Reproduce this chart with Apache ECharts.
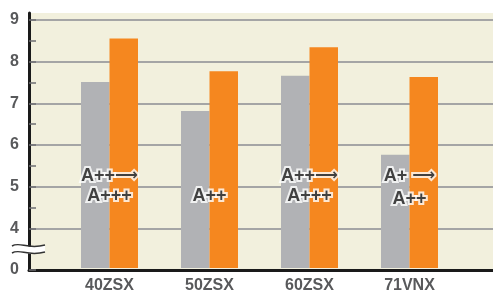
<!DOCTYPE html>
<html>
<head>
    <meta charset="utf-8">
    <title>Chart</title>
    <script src="https://cdn.jsdelivr.net/npm/echarts@6/dist/echarts.min.js"></script>
    <style>
        html, body { margin: 0; padding: 0; background: #fff; }
        #main { width: 493px; height: 294px; }
    </style>
</head>
<body>
    <div id="main"></div>
    <script type="text/javascript">
        // data
        var models = ['40ZSX', '50ZSX', '60ZSX', '71VNX'];
        var oldValues = [7.5, 6.8, 7.65, 5.74];
        var newValues = [8.55, 7.76, 8.34, 7.62];
        var yTicks = [3, 4, 5, 6, 7, 8, 9];
        var yTickLabels = ['0', '4', '5', '6', '7', '8', '9'];
        var classFrom = ['A++', '', 'A++', 'A+ '];
        var classTo = ['A+++', 'A++', 'A+++', 'A++'];
        var classFromY = [5.23, 5.23, 5.23, 5.23];
        var classToY = [4.75, 4.75, 4.75, 4.68];

        var annoPts = [];
        for (var i = 0; i < models.length; i++) {
            if (classFrom[i]) annoPts.push({ value: [i, classFromY[i]], name: '{t|' + classFrom[i] + '}{r|\u27F6}' });
            annoPts.push({ value: [i, classToY[i]], name: '{t|' + classTo[i] + '}' });
        }

        function annoLabel(halo) {
            var base = {
                color: halo ? '#ffffff' : '#111111',
                textBorderColor: '#ffffff',
                textBorderWidth: halo ? 4 : 0
            };
            return {
                show: true,
                position: 'inside',
                formatter: '{b}',
                rich: {
                    t: Object.assign({ fontFamily: 'Liberation Sans', fontWeight: 'bold', fontSize: 18 }, base),
                    r: Object.assign({ fontFamily: 'DejaVu Sans', fontWeight: 'bold', fontSize: 16 }, base)
                }
            };
        }

        // axis break mark
        function wave(x1, y1, x2, y2, c1x, c1y, c2x, c2y) {
            return { type: 'bezierCurve', z: 101,
                     shape: { x1: x1, y1: y1, x2: x2, y2: y2, cpx1: c1x, cpy1: c1y, cpx2: c2x, cpy2: c2y },
                     style: { fill: 'none', stroke: '#333', lineWidth: 1.5 } };
        }

        var myChart = echarts.init(document.getElementById('main'));

        var option = {
            animation: false,
            grid: [
                { left: 29, right: 0, top: 13, bottom: 24, show: true, backgroundColor: '#F2F0DD', borderWidth: 0 },
                { left: 29, right: 0, top: 20, bottom: 24 },
                { left: 59.5, right: 33.5, top: 20, bottom: 24 }
            ],
            xAxis: [
                { gridIndex: 0, type: 'value', min: 0, max: 1,
                  axisLine: { show: true, lineStyle: { color: '#1a1a1a', width: 3 } },
                  axisTick: { show: false }, axisLabel: { show: false }, splitLine: { show: false } },
                { gridIndex: 1, type: 'value', min: 0, max: 1, show: false },
                { gridIndex: 2, type: 'category', data: models,
                  axisLine: { show: false }, axisTick: { show: false },
                  axisLabel: { margin: 10, color: '#58595B', fontFamily: 'Liberation Sans', fontWeight: 'bold', fontSize: 16 } }
            ],
            yAxis: [
                { gridIndex: 0, type: 'value', min: 0, max: 1,
                  axisLine: { show: true, lineStyle: { color: '#1a1a1a', width: 3 } },
                  axisTick: { show: false }, axisLabel: { show: false }, splitLine: { show: false } },
                { gridIndex: 1, type: 'value', min: 3, max: 9, interval: 1,
                  axisLine: { show: false },
                  axisTick: { show: true, inside: true, length: 7, lineStyle: { color: '#6d6e71', width: 1.5 } },
                  minorTick: { show: true, splitNumber: 2, length: 7, lineStyle: { color: '#6d6e71', width: 1.5 } },
                  splitLine: { show: true, lineStyle: { color: '#A5A5A5', width: 2 } },
                  axisLabel: {
                      margin: 10, color: '#58595B', fontFamily: 'Liberation Sans', fontWeight: 'bold', fontSize: 16,
                      formatter: function (v) {
                          var k = yTicks.indexOf(v);
                          return k >= 0 ? yTickLabels[k] : '';
                      }
                  } },
                { gridIndex: 2, type: 'value', min: 3, max: 9, show: false }
            ],
            series: [
                { type: 'bar', xAxisIndex: 2, yAxisIndex: 2, data: oldValues, barWidth: 28.5, barGap: '0%',
                  itemStyle: { color: '#B1B2B5' } },
                { type: 'bar', xAxisIndex: 2, yAxisIndex: 2, data: newValues, barWidth: 28.5, barGap: '0%',
                  itemStyle: { color: '#F5871F' } },
                { type: 'scatter', xAxisIndex: 2, yAxisIndex: 2, data: annoPts, symbolSize: 0,
                  label: annoLabel(true), z: 10 },
                { type: 'scatter', xAxisIndex: 2, yAxisIndex: 2, data: annoPts, symbolSize: 0,
                  label: annoLabel(false), z: 11 }
            ],
            graphic: [
                { type: 'polygon', z: 100,
                  shape: { points: [[12, 246], [18, 243.5], [24, 244.5], [30, 247], [36, 246.5], [45, 245],
                                    [45, 252], [36, 253.5], [30, 254], [24, 251.5], [18, 250.5], [12, 253]] },
                  style: { fill: '#ffffff' } },
                wave(12, 246, 45, 245, 20, 241, 27, 250),
                wave(12, 253, 45, 252, 20, 248, 27, 257)
            ]
        };

        myChart.setOption(option);
    </script>
</body>
</html>
